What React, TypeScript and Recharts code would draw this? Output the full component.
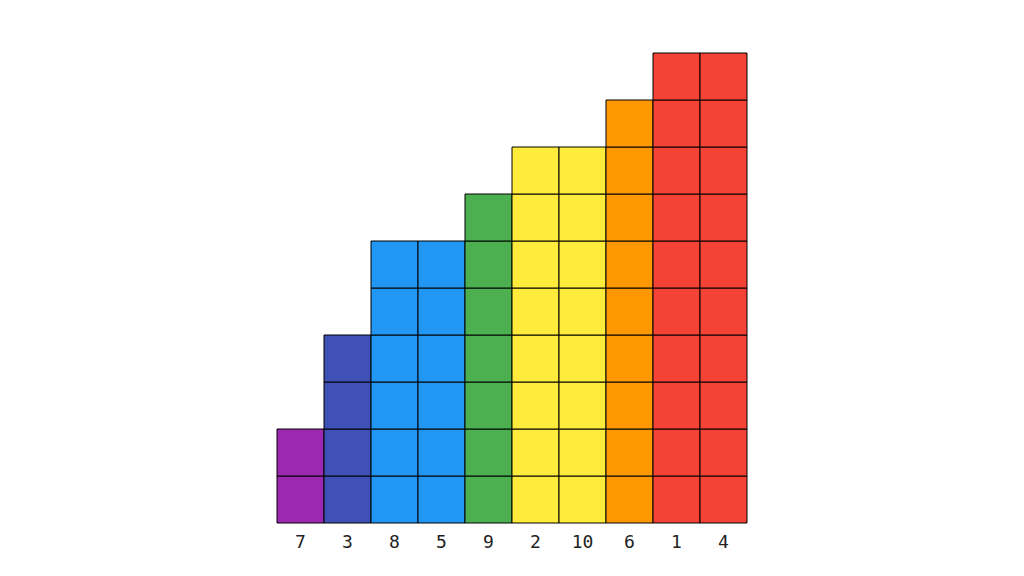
import { BarChart, Bar, XAxis, YAxis, Cell } from "recharts";

// block stack chart: each column is a stack of unit cells
const categories = ["7", "3", "8", "5", "9", "2", "10", "6", "1", "4"];
const heights = [2, 4, 6, 6, 7, 8, 8, 9, 10, 10];
const colors = [
  "#9C27B0",
  "#3F51B5",
  "#2196F3",
  "#2196F3",
  "#4CAF50",
  "#FFEB3B",
  "#FFEB3B",
  "#FF9800",
  "#F44336",
  "#F44336",
];
const levels = [1, 2, 3, 4, 5, 6, 7, 8, 9, 10];

type Row = { name: string } & Record<string, number | string | null>;

const rows: Row[] = categories.map((name, i) => {
  const row: Row = { name };
  for (const l of levels) row[`l${l}`] = heights[i] >= l ? 1 : null;
  return row;
});

export default function App() {
  return (
    <div style={{ position: "fixed", left: 0, top: 0, width: 1024, height: 576, background: "#fff" }}>
      <BarChart
        width={1024}
        height={576}
        data={rows}
        margin={{ top: 53, right: 277, bottom: 0, left: 277 }}
        barCategoryGap={0}
      >
        <XAxis
          dataKey="name"
          height={53}
          axisLine={false}
          tickLine={false}
          tickMargin={6}
          interval={0}
          tick={{ fill: "#222", fontSize: 18, fontFamily: "DejaVu Sans Mono" }}
        />
        <YAxis hide domain={[0, 10]} />
        {levels.map((l) => (
          <Bar
            key={l}
            dataKey={`l${l}`}
            stackId="a"
            stroke="#000"
            strokeWidth={1}
            isAnimationActive={false}
          >
            {rows.map((r, i) => (
              <Cell key={r.name} fill={colors[i]} />
            ))}
          </Bar>
        ))}
      </BarChart>
    </div>
  );
}
